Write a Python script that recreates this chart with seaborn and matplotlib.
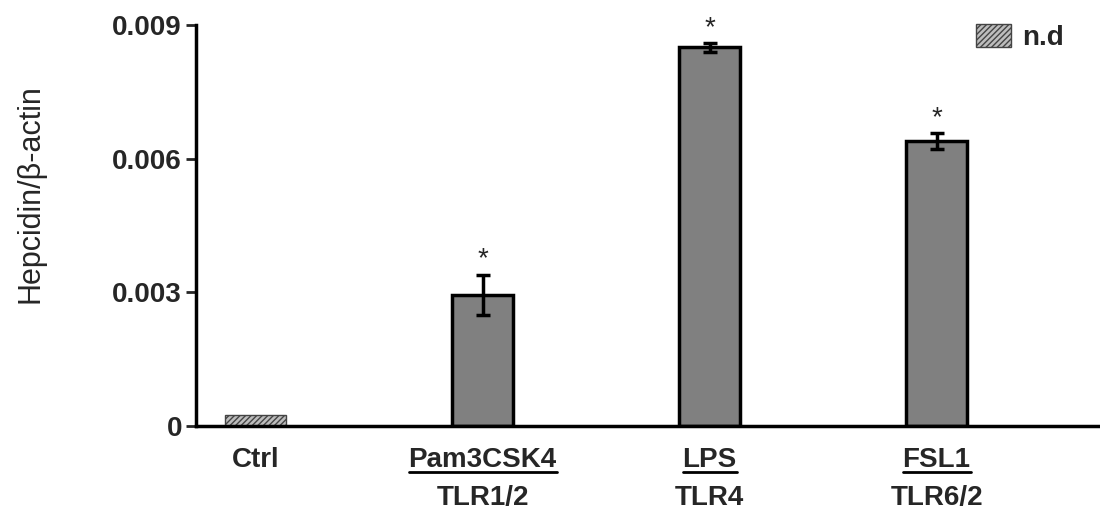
import matplotlib
matplotlib.use("Agg")
import matplotlib.pyplot as plt
import seaborn as sns
import numpy as np
from matplotlib.lines import Line2D
from matplotlib.patches import Patch
from matplotlib.transforms import IdentityTransform

# values
groups = ["Ctrl", "Pam3CSK4", "LPS", "FSL1"]
receptors = ["", "TLR1/2", "TLR4", "TLR6/2"]
values = [0.00025, 0.00295, 0.0085, 0.0064]
errors = [0.0, 0.00045, 0.0001, 0.00017]
signif = ["", "*", "*", "*"]
yticks = [0, 0.003, 0.006, 0.009]
ytick_labels = ["0", "0.003", "0.006", "0.009"]

sns.set_style("ticks")
plt.rcParams["font.family"] = ["Liberation Sans", "DejaVu Sans"]
plt.rcParams["hatch.linewidth"] = 1.0
plt.rcParams["hatch.color"] = "#555555"

fig = plt.figure(figsize=(11, 5.14), dpi=100)
ax = fig.add_axes([0.178, 0.171, 0.822, 0.78])

sns.barplot(x=groups, y=values, order=groups, color="#808080",
            edgecolor="black", linewidth=2.5, width=0.27, saturation=1, ax=ax)

# control bar is not detected -> hatched
ctrl = ax.patches[0]
ctrl.set_facecolor("#bdbdbd")
ctrl.set_hatch("//////")
ctrl.set_edgecolor("#444444")
ctrl.set_linewidth(1)

xs = np.arange(len(groups))
for x, v, e in zip(xs[1:], values[1:], errors[1:]):
    ax.errorbar(x, v, yerr=e, fmt="none", ecolor="black", elinewidth=2.5,
                capsize=5, capthick=2.5)
for x, v, e, s in zip(xs, values, errors, signif):
    if s:
        ax.text(x, v + e + 0.00005, s, ha="center", va="bottom", fontsize=20)

ax.set_ylim(0, 0.009)
ax.set_xlim(-0.264, 3.72)
ax.set_yticks(yticks)
ax.set_yticklabels(ytick_labels, fontsize=20, fontweight="bold")
ax.set_xticks(xs)
ax.set_xticklabels(groups, fontsize=20, fontweight="bold")
ax.tick_params(axis="x", length=0, pad=15)
ax.tick_params(axis="y", length=7, width=2, pad=3, direction="out")
ax.set_ylabel("Hepcidin/β-actin", fontsize=22)
ax.yaxis.set_label_coords(-0.166, 0.58)

for sp in ["top", "right"]:
    ax.spines[sp].set_visible(False)
for sp in ["left", "bottom"]:
    ax.spines[sp].set_linewidth(2.5)
    ax.spines[sp].set_color("black")

# second line of the x labels
trans = ax.get_xaxis_transform()
for x, r in zip(xs, receptors):
    if r:
        ax.text(x, -0.18, r, transform=trans, ha="center", va="center",
                fontsize=20, fontweight="bold")

leg_handle = Patch(facecolor="#bdbdbd", edgecolor="#444444", hatch="//////", linewidth=1)
ax.legend([leg_handle], ["n.d"], loc="upper right", frameon=False,
          prop={"weight": "bold", "size": 20}, handlelength=1.25, handleheight=0.9,
          handletextpad=0.4, borderaxespad=0.2, bbox_to_anchor=(0.978, 1.045))

# underline the treatment names
fig.canvas.draw()
renderer = fig.canvas.get_renderer()
for lab in ax.get_xticklabels():
    if lab.get_text() == "Ctrl":
        continue
    bb = lab.get_window_extent(renderer)
    fig.add_artist(Line2D([bb.x0, bb.x1], [bb.y0 + 1, bb.y0 + 1],
                          transform=IdentityTransform(), color="black", lw=2))

fig.savefig("out.png", dpi=100)
